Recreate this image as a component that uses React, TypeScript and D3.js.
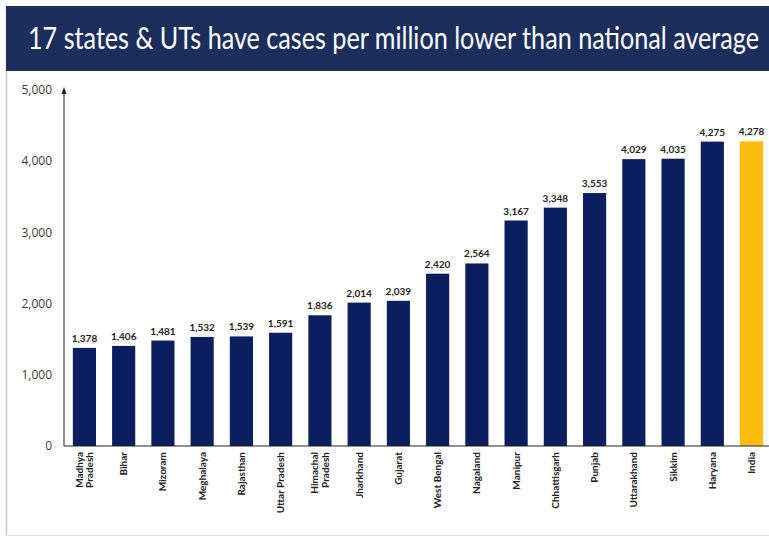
import React from "react";
import * as d3 from "d3";

const categories: string[][] = [
  ["Madhya", "Pradesh"], ["Bihar"], ["Mizoram"], ["Meghalaya"], ["Rajasthan"],
  ["Uttar Pradesh"], ["Himachal", "Pradesh"], ["Jharkhand"], ["Gujarat"], ["West Bengal"],
  ["Nagaland"], ["Manipur"], ["Chhattisgarh"], ["Punjab"], ["Uttarakhand"],
  ["Sikkim"], ["Haryana"], ["India"],
];
const values: number[] = [1378, 1406, 1481, 1532, 1539, 1591, 1836, 2014, 2039, 2420, 2564, 3167, 3348, 3553, 4029, 4035, 4275, 4278];
const yTicks: number[] = [0, 1000, 2000, 3000, 4000, 5000];
const title = "17 states & UTs have cases per million lower than national average";

const W = 769, H = 538;

export default function App() {
  const keys = categories.map((c) => c.join(" "));
  const x = d3.scaleBand<string>().domain(keys).range([65, 771]).paddingInner(0.41).paddingOuter(0.2);
  const y = d3.scaleLinear().domain([0, 5000]).range([446, 90]);
  const fmt = d3.format(",");
  const baseY = y(0);
  return (
    <svg width={W} height={H} style={{ position: "absolute", left: 0, top: 0, background: "#fff" }}>
      <rect x={0} y={0} width={W} height={H} fill="#fff" />
      {/* outer frame */}
      <line x1={6.5} y1={8} x2={6.5} y2={535} stroke="#c8c8c8" strokeWidth={1.5} />
      <line x1={6} y1={535.5} x2={W} y2={535.5} stroke="#e2e2e2" strokeWidth={1} />
      {/* banner */}
      <rect x={6} y={6} width={W - 6} height={65} fill="#1b2e5c" />
      <g transform="translate(28,49) scale(1,1.25)">
        <text x={0} y={0} fill="#ffffff" fontFamily="Lato, 'Open Sans', sans-serif" fontSize={25}
          textLength={731} lengthAdjust="spacingAndGlyphs">{title}</text>
      </g>
      {/* y axis ticks */}
      {yTicks.map((t) => (
        <text key={t} x={52} y={y(t)} dy="0.35em" textAnchor="end" fill="#3a3a3a"
          fontFamily="'Open Sans', Lato, sans-serif" fontSize={12}>{fmt(t)}</text>
      ))}
      {/* bars */}
      {keys.map((k, i) => (
        <g key={k}>
          <rect x={x(k)} y={y(values[i])} width={x.bandwidth()} height={baseY - y(values[i])}
            fill={i === keys.length - 1 ? "#fbbd0c" : "#0b1f5e"} />
          <text x={(x(k) as number) + x.bandwidth() / 2} y={y(values[i]) - 6} textAnchor="middle"
            fill="#222" fontFamily="Lato, 'Open Sans', sans-serif" fontWeight="bold" fontSize={10}>{fmt(values[i])}</text>
        </g>
      ))}
      {/* axes */}
      <line x1={64} y1={baseY} x2={64} y2={92} stroke="#222" strokeWidth={1} />
      <path d="M64,87 L61.5,94 L66.5,94 Z" fill="#222" />
      <line x1={64} y1={baseY} x2={W} y2={baseY} stroke="#222" strokeWidth={1} />
      {/* x labels */}
      {categories.map((lines, i) => {
        const cx = (x(keys[i]) as number) + x.bandwidth() / 2;
        const n = lines.length;
        return (
          <text key={keys[i]} transform={`translate(${cx},452) rotate(-90)`} textAnchor="end"
            fill="#222" fontFamily="Lato, 'Open Sans', sans-serif" fontWeight="bold" fontSize={10}>
            {lines.map((l, j) => (
              <tspan key={j} x={0} y={(j - (n - 1) / 2) * 10.5} dy="0.35em">{l}</tspan>
            ))}
          </text>
        );
      })}
    </svg>
  );
}
